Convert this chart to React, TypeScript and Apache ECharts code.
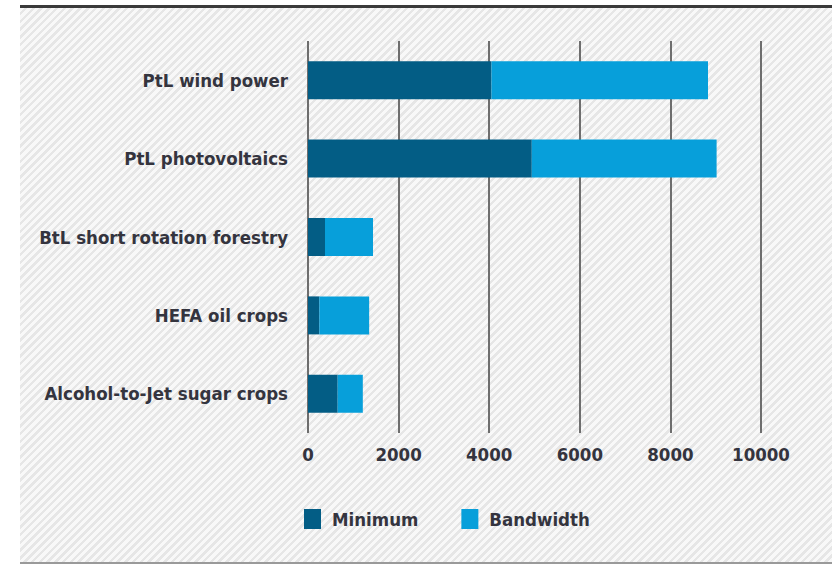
import React, { useEffect, useRef } from "react";
import * as echarts from "echarts";

// Pathways, top to bottom
const categories = [
  "PtL wind power",
  "PtL photovoltaics",
  "BtL short rotation forestry",
  "HEFA oil crops",
  "Alcohol-to-Jet sugar crops",
];

// Lower end of each range
const minimumValues = [4050, 4940, 375, 250, 655];
// Span from the lower to the upper end
const bandwidthValues = [4780, 4080, 1060, 1100, 555];

const xTicks = [0, 2000, 4000, 6000, 8000, 10000];

const FONT = "'DejaVu Sans Condensed', 'Liberation Sans Narrow', sans-serif";
const TEXT = "#34343e";
const SIZE = 18.5;

export default function App() {
  const ref = useRef<HTMLDivElement>(null);

  useEffect(() => {
    if (!ref.current) return;
    const chart = echarts.init(ref.current, null, { renderer: "svg" });
    chart.setOption({
      animation: false,
      backgroundColor: "transparent",
      graphic: [
        {
          type: "rect",
          shape: { x: 20, y: 5, width: 812, height: 3 },
          style: { fill: "#3a3a3a" },
        },
        {
          type: "rect",
          shape: { x: 20, y: 562, width: 812, height: 2 },
          style: { fill: "#9a9a9a" },
        },
      ],
      grid: { left: 308, right: 71, top: 41, bottom: 132 },
      legend: {
        left: 304,
        top: 509,
        padding: 0,
        itemWidth: 17,
        itemHeight: 20,
        itemGap: 43,
        icon: "rect",
        textStyle: {
          fontFamily: FONT,
          fontSize: SIZE,
          fontWeight: "bold",
          color: TEXT,
          padding: [0, 0, 0, 6],
        },
        data: ["Minimum", "Bandwidth"],
      },
      xAxis: {
        type: "value",
        min: xTicks[0],
        max: xTicks[xTicks.length - 1],
        interval: xTicks[1] - xTicks[0],
        axisLine: { show: false },
        axisTick: { show: false },
        axisLabel: {
          margin: 12,
          fontFamily: FONT,
          fontSize: SIZE,
          fontWeight: "bold",
          color: TEXT,
          formatter: (v: number) => String(v),
        },
        splitLine: { show: true, lineStyle: { color: "#6e6e6e", width: 2 } },
      },
      yAxis: {
        type: "category",
        inverse: true,
        data: categories,
        axisLine: { show: false },
        axisTick: { show: false },
        axisLabel: {
          margin: 20,
          fontFamily: FONT,
          fontSize: SIZE,
          fontWeight: "bold",
          color: TEXT,
        },
      },
      series: [
        {
          name: "Minimum",
          type: "bar",
          stack: "range",
          barWidth: 38,
          itemStyle: { color: "#035d85" },
          data: minimumValues,
        },
        {
          name: "Bandwidth",
          type: "bar",
          stack: "range",
          barWidth: 38,
          itemStyle: { color: "#079fda" },
          data: bandwidthValues,
        },
      ],
    });
    return () => chart.dispose();
  }, []);

  return (
    <div
      style={{
        position: "absolute",
        left: 0,
        top: 0,
        width: 832,
        height: 565,
        background: "#ffffff",
      }}
    >
      <div
        style={{
          position: "absolute",
          left: 20,
          top: 8,
          width: 812,
          height: 554,
          background:
            "repeating-linear-gradient(135deg, #f8f8f8 0px, #f8f8f8 3px, #e6e6e6 3px, #e6e6e6 5.5px)",
        }}
      />
      <div ref={ref} style={{ position: "absolute", left: 0, top: 0, width: 832, height: 565 }} />
    </div>
  );
}
